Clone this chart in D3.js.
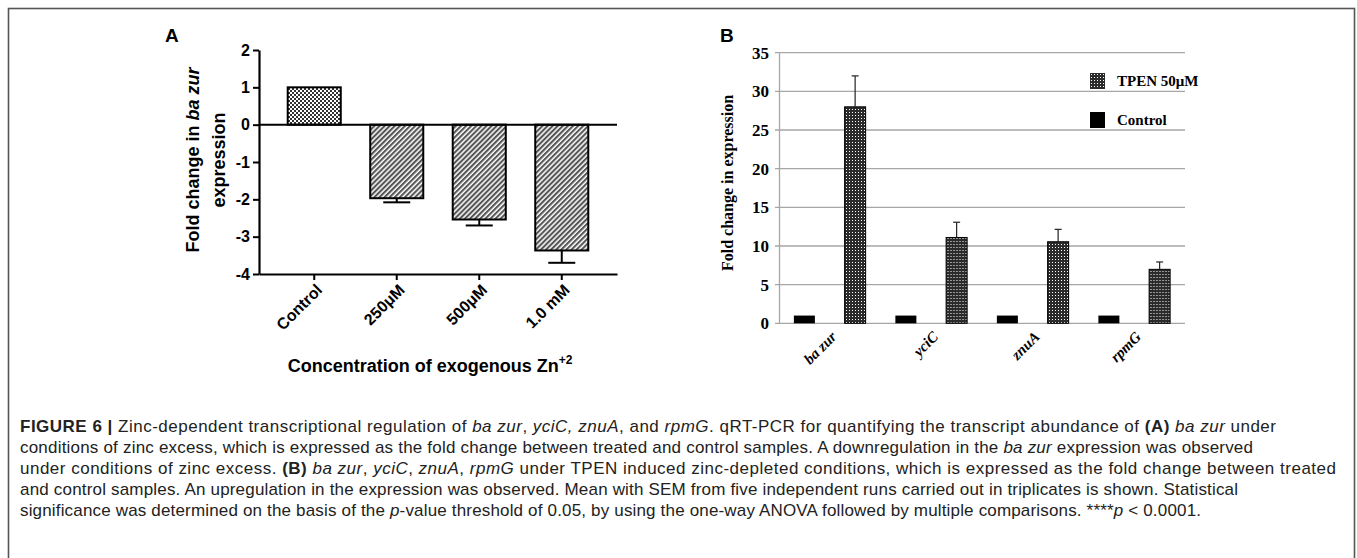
<!DOCTYPE html>
<html>
<head>
<meta charset="utf-8">
<script src="https://cdn.jsdelivr.net/npm/d3@7/dist/d3.min.js"></script>
<style>
  body { margin: 0; background: #fff; }
  svg { display: block; }
</style>
</head>
<body>
<svg id="fig" width="1357" height="558"></svg>
<script>
// Panel A - ba zur under zinc excess
const concLabels = ["Control", "250\u03bcM", "500\u03bcM", "1.0 mM"];
const zurFold = [1.0, -1.97, -2.54, -3.37];
const zurSem = [0, 0.11, 0.16, 0.33];
const yTicksA = [2, 1, 0, -1, -2, -3, -4];

// Panel B - TPEN induced zinc depletion
const genes = ["ba zur", "yciC", "znuA", "rpmG"];
const seriesB = ["Control", "TPEN 50\u03bcM"];
const controlFold = [1, 1, 1, 1];
const tpenFold = [28.0, 11.1, 10.55, 6.98];
const tpenSem = [4.0, 1.97, 1.6, 0.95];
const yTicksB = [0, 5, 10, 15, 20, 25, 30, 35];

const svg = d3.select('#fig');
const defs = svg.append('defs');

// fine checker for the control bar in A
const checker = defs.append('pattern')
    .attr('id', 'checker').attr('patternUnits', 'userSpaceOnUse')
    .attr('width', 4).attr('height', 4);
checker.append('rect').attr('width', 4).attr('height', 4).attr('fill', '#fff');
checker.append('rect').attr('width', 2).attr('height', 2).attr('fill', '#333');
checker.append('rect').attr('x', 2).attr('y', 2).attr('width', 2).attr('height', 2).attr('fill', '#333');

// diagonal hatch for the zinc bars in A
const hatch = defs.append('pattern')
    .attr('id', 'hatch').attr('patternUnits', 'userSpaceOnUse')
    .attr('width', 3.6).attr('height', 3.6)
    .attr('patternTransform', 'rotate(45)');
hatch.append('rect').attr('width', 3.6).attr('height', 3.6).attr('fill', '#fff');
hatch.append('rect').attr('width', 2.1).attr('height', 3.6).attr('fill', '#555');

// dotted dark fill for TPEN bars in B
const dots = defs.append('pattern')
    .attr('id', 'dots').attr('patternUnits', 'userSpaceOnUse')
    .attr('width', 3).attr('height', 3);
dots.append('rect').attr('width', 3).attr('height', 3).attr('fill', '#2b2b2b');
dots.append('rect').attr('x', 1).attr('y', 1).attr('width', 1).attr('height', 1).attr('fill', '#fff');

// figure frame
svg.append('rect')
    .attr('x', 8.5).attr('y', 8.5).attr('width', 1346).attr('height', 560)
    .attr('fill', 'none').attr('stroke', '#555').attr('stroke-width', 1.6);

drawPanelA();
drawPanelB();
drawCaption();

function drawPanelA() {
    const g = svg.append('g').attr('font-family', 'Liberation Sans, Arial, sans-serif');
    const y = d3.scaleLinear().domain([-4, 2]).range([274, 50]);
    const x = d3.scaleBand().domain(concLabels).range([259, 617])
        .paddingInner(0.357).paddingOuter(0.348);

    g.append('text').attr('x', 165).attr('y', 42)
        .attr('font-size', 19).attr('font-weight', 'bold').text('A');

    // bars
    g.selectAll('rect.barA')
        .data(zurFold)
        .enter()
        .append('rect')
        .attr('class', 'barA')
        .attr('x', (d, i) => x(concLabels[i]))
        .attr('width', x.bandwidth())
        .attr('y', d => Math.min(y(d), y(0)))
        .attr('height', d => Math.abs(y(d) - y(0)))
        .attr('fill', (d, i) => i === 0 ? 'url(#checker)' : 'url(#hatch)')
        .attr('stroke', '#000')
        .attr('stroke-width', 2);

    // error bars (only the outward half is visible)
    const err = g.selectAll('g.errA')
        .data(zurFold.map((d, i) => ({ v: d, s: zurSem[i], c: x(concLabels[i]) + x.bandwidth() / 2 })).filter(d => d.s > 0))
        .enter().append('g').attr('class', 'errA')
        .attr('stroke', '#000').attr('stroke-width', 2);
    err.append('line')
        .attr('x1', d => d.c).attr('x2', d => d.c)
        .attr('y1', d => y(d.v)).attr('y2', d => y(d.v - d.s));
    err.append('line')
        .attr('x1', d => d.c - 13.5).attr('x2', d => d.c + 13.5)
        .attr('y1', d => y(d.v - d.s)).attr('y2', d => y(d.v - d.s));

    // zero line
    g.append('line')
        .attr('x1', 259).attr('x2', 617)
        .attr('y1', y(0)).attr('y2', y(0))
        .attr('stroke', '#000').attr('stroke-width', 2);

    // axes (plain hyphen for negatives, as in the figure)
    const yAxis = g.append('g').attr('transform', 'translate(259,0)')
        .call(d3.axisLeft(y).tickValues(yTicksA).tickFormat(d => String(d))
            .tickSize(6).tickSizeOuter(0).tickPadding(3));
    const xAxis = g.append('g').attr('transform', 'translate(0,274)')
        .call(d3.axisBottom(x).tickSize(6).tickSizeOuter(0));
    [yAxis, xAxis].forEach(a => {
        a.select('.domain').attr('stroke', '#000').attr('stroke-width', 2.2);
        a.selectAll('.tick line').attr('stroke', '#000').attr('stroke-width', 2);
        a.selectAll('text').attr('font-family', 'Liberation Sans, Arial, sans-serif')
            .attr('font-weight', 'bold').attr('font-size', 16).attr('fill', '#000');
    });
    xAxis.selectAll('text')
        .attr('text-anchor', 'end')
        .attr('x', 0).attr('y', 0).attr('dy', '0.35em')
        .attr('transform', 'translate(5,13) rotate(-45)');

    // axis titles
    const yt = g.append('text')
        .attr('transform', 'translate(199,160) rotate(-90)')
        .attr('text-anchor', 'middle')
        .attr('font-size', 18).attr('font-weight', 'bold');
    const l1 = yt.append('tspan').attr('x', 0).attr('y', 0);
    l1.append('tspan').text('Fold change in ');
    l1.append('tspan').attr('font-style', 'italic').text('ba zur');
    yt.append('tspan').attr('x', 0).attr('y', 26).text('expression');

    const xt = g.append('text')
        .attr('x', 430).attr('y', 372)
        .attr('text-anchor', 'middle')
        .attr('font-size', 18).attr('font-weight', 'bold');
    xt.append('tspan').text('Concentration of exogenous Zn');
    xt.append('tspan').attr('font-size', 12).attr('dy', -8).text('+2');
}

function drawPanelB() {
    const g = svg.append('g').attr('font-family', 'Liberation Serif, Times New Roman, serif');
    const y = d3.scaleLinear().domain([0, 35]).range([323.3, 52.7]);
    const x0 = d3.scaleBand().domain(genes).range([779, 1185]);
    const x1 = d3.scaleBand().domain(seriesB).range([0, x0.bandwidth()])
        .paddingInner(0.586).paddingOuter(0.293);

    svg.append('text').attr('x', 720).attr('y', 42)
        .attr('font-family', 'Liberation Sans, Arial, sans-serif')
        .attr('font-size', 19).attr('font-weight', 'bold').text('B');

    // gridlines
    g.selectAll('line.grid')
        .data(yTicksB)
        .enter().append('line')
        .attr('class', 'grid')
        .attr('x1', 775).attr('x2', 1185)
        .attr('y1', d => y(d)).attr('y2', d => y(d))
        .attr('stroke', '#a6a6a6').attr('stroke-width', 1.3);

    const yAxis = g.append('g').attr('transform', 'translate(779,0)')
        .call(d3.axisLeft(y).tickValues(yTicksB).tickSize(0).tickPadding(10).tickSizeOuter(0));
    yAxis.select('.domain').attr('stroke', '#a6a6a6').attr('stroke-width', 1.3);
    yAxis.selectAll('text')
        .attr('font-family', 'Liberation Serif, Times New Roman, serif')
        .attr('font-size', 17).attr('font-weight', 'bold').attr('fill', '#000');

    // grouped bars
    const groups = g.selectAll('g.gene')
        .data(genes)
        .enter().append('g')
        .attr('class', 'gene')
        .attr('transform', d => `translate(${x0(d)},0)`);

    groups.append('rect')
        .attr('x', x1(seriesB[0]))
        .attr('width', x1.bandwidth())
        .attr('y', (d, i) => y(controlFold[i]))
        .attr('height', (d, i) => y(0) - y(controlFold[i]))
        .attr('fill', '#000');

    groups.append('rect')
        .attr('x', x1(seriesB[1]))
        .attr('width', x1.bandwidth())
        .attr('y', (d, i) => y(tpenFold[i]))
        .attr('height', (d, i) => y(0) - y(tpenFold[i]))
        .attr('fill', 'url(#dots)')
        .attr('stroke', '#000').attr('stroke-width', 1);

    const cx = x1(seriesB[1]) + x1.bandwidth() / 2;
    groups.append('line')
        .attr('x1', cx).attr('x2', cx)
        .attr('y1', (d, i) => y(tpenFold[i]))
        .attr('y2', (d, i) => y(tpenFold[i] + tpenSem[i]))
        .attr('stroke', '#222').attr('stroke-width', 1.2);
    groups.append('line')
        .attr('x1', cx - 3.5).attr('x2', cx + 3.5)
        .attr('y1', (d, i) => y(tpenFold[i] + tpenSem[i]))
        .attr('y2', (d, i) => y(tpenFold[i] + tpenSem[i]))
        .attr('stroke', '#222').attr('stroke-width', 1.2);

    // gene names, slanted
    groups.append('text')
        .attr('text-anchor', 'end')
        .attr('dy', '0.35em')
        .attr('transform', `translate(${x0.bandwidth() / 2 + 4},334) rotate(-45)`)
        .attr('font-size', 15).attr('font-weight', 'bold').attr('font-style', 'italic')
        .text(d => d);

    g.append('text')
        .attr('transform', 'translate(733,183) rotate(-90)')
        .attr('text-anchor', 'middle')
        .attr('font-size', 16).attr('font-weight', 'bold')
        .text('Fold change in expression');

    // legend: TPEN first, then Control
    const legend = g.selectAll('g.legend')
        .data([seriesB[1], seriesB[0]])
        .enter().append('g')
        .attr('class', 'legend')
        .attr('transform', (d, i) => `translate(1090,${73 + i * 39})`);
    legend.append('rect')
        .attr('width', 15).attr('height', 16)
        .attr('fill', (d, i) => i === 0 ? 'url(#dots)' : '#000');
    legend.append('text')
        .attr('x', 27).attr('y', 8).attr('dy', '0.35em')
        .attr('font-size', 15).attr('font-weight', 'bold')
        .text(d => d);
}

function drawCaption() {
    const lines = [
        [['FIGURE 6 |', 'b'], [' Zinc-dependent transcriptional regulation of '], ['ba zur', 'i'], [', '], ['yciC, znuA', 'i'], [', and '], ['rpmG', 'i'], ['. qRT-PCR for quantifying the transcript abundance of '], ['(A)', 'b'], [' '], ['ba zur', 'i'], [' under']],
        [['conditions of zinc excess, which is expressed as the fold change between treated and control samples. A downregulation in the '], ['ba zur', 'i'], [' expression was observed']],
        [['under conditions of zinc excess. '], ['(B)', 'b'], [' '], ['ba zur', 'i'], [', '], ['yciC', 'i'], [', '], ['znuA', 'i'], [', '], ['rpmG', 'i'], [' under TPEN induced zinc-depleted conditions, which is expressed as the fold change between treated']],
        [['and control samples. An upregulation in the expression was observed. Mean with SEM from five independent runs carried out in triplicates is shown. Statistical']],
        [['significance was determined on the basis of the '], ['p', 'i'], ['-value threshold of 0.05, by using the one-way ANOVA followed by multiple comparisons. ****'], ['p', 'i'], [' < 0.0001.']]
    ];
    // right ends of the caption lines as typeset in the figure
    const lineEnds = [1276, 1253, 1336, 1238, 1201];
    const cap = svg.append('g')
        .attr('font-family', 'Liberation Sans, Arial, sans-serif')
        .attr('font-size', 17).attr('fill', '#222');
    lines.forEach((segs, i) => {
        const t = cap.append('text').attr('x', 20).attr('y', 432 + i * 21)
            .attr('textLength', lineEnds[i] - 20).attr('lengthAdjust', 'spacing');
        segs.forEach(s => {
            const sp = t.append('tspan').text(s[0]);
            if (s[1] === 'b') sp.attr('font-weight', 'bold');
            if (s[1] === 'i') sp.attr('font-style', 'italic');
        });
    });
}
</script>
</body>
</html>
